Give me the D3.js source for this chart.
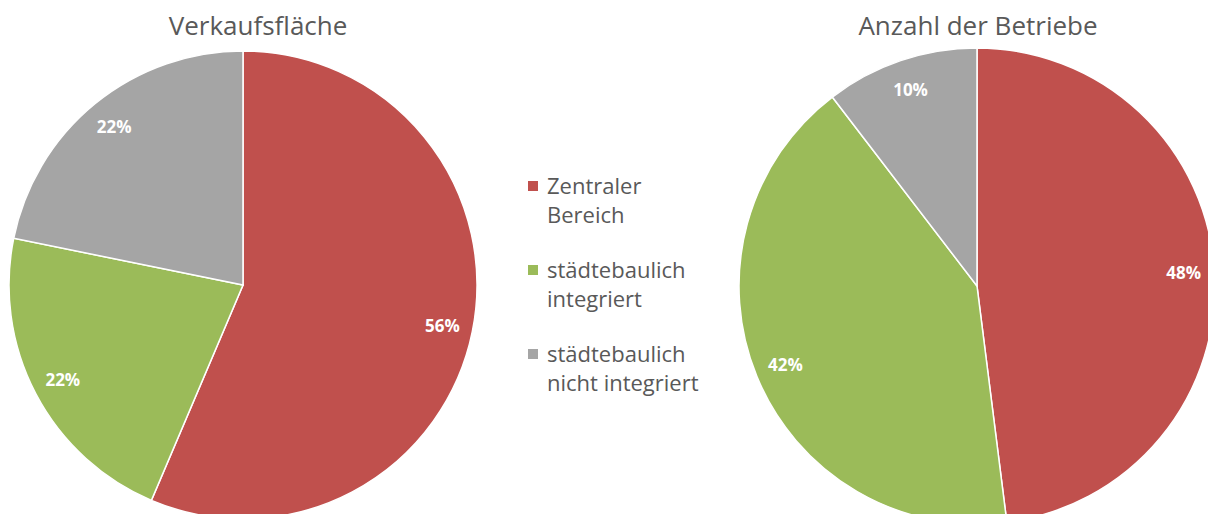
<!DOCTYPE html>
<html><head><meta charset="utf-8">
<script src="https://cdn.jsdelivr.net/npm/d3@7"></script>
<style>body{margin:0;background:#fff}svg{display:block}</style>
</head><body>
<svg id="c" width="1208" height="514"></svg>
<script>
const categories = ["Zentraler Bereich", "städtebaulich integriert", "städtebaulich nicht integriert"];
const legendLines = [["Zentraler", "Bereich"], ["städtebaulich", "integriert"], ["städtebaulich", "nicht integriert"]];
const colors = ["#C0504D", "#9BBB59", "#A5A5A5"];
const titles = ["Verkaufsfläche", "Anzahl der Betriebe"];
const verkaufsflaeche = [56.4, 21.8, 21.8];
const betriebe = [48, 41.6, 10.4];

const svg = d3.select("#c");
const font = "'Open Sans', sans-serif";
const fmt = d3.format(".0%");

const pies = [
  {values: verkaufsflaeche, cx: 243, cy: 285, r: 234, title: titles[0], tx: 258},
  {values: betriebe, cx: 977, cy: 286, r: 238, title: titles[1], tx: 978}
];
const pie = d3.pie().sort(null).value(d => d);
pies.forEach(p => {
  const total = d3.sum(p.values);
  const g = svg.append("g").attr("transform", `translate(${p.cx},${p.cy})`);
  const arc = d3.arc().innerRadius(0).outerRadius(p.r);
  const larc = d3.arc().innerRadius(p.r * 0.87).outerRadius(p.r * 0.87);
  const arcs = pie(p.values);
  g.selectAll("path").data(arcs).join("path")
    .attr("d", arc).attr("fill", (d, i) => colors[i])
    .attr("stroke", "#fff").attr("stroke-width", 1.5);
  g.selectAll("text").data(arcs).join("text")
    .attr("transform", d => `translate(${larc.centroid(d)})`)
    .attr("text-anchor", "middle").attr("dy", "0.35em")
    .attr("fill", "#fff").attr("font-family", font).attr("font-weight", "bold")
    .attr("font-size", 17)
    .text(d => fmt(d.data / total));
  svg.append("text").attr("x", p.tx).attr("y", 35).attr("text-anchor", "middle")
    .attr("font-family", font).attr("font-size", 26).attr("fill", "#595959")
    .text(p.title);
});

const lg = svg.append("g").attr("transform", "translate(528,0)");
const groupY = [186, 270, 354];
legendLines.forEach((lines, i) => {
  lg.append("rect").attr("x", 0).attr("y", groupY[i] - 5).attr("width", 10).attr("height", 10)
    .attr("fill", colors[i]);
  lines.forEach((t, j) => {
    lg.append("text").attr("x", 19).attr("y", groupY[i] + j * 29).attr("dy", "0.35em")
      .attr("font-family", font).attr("font-size", 22).attr("fill", "#595959").text(t);
  });
});
</script>
</body></html>
